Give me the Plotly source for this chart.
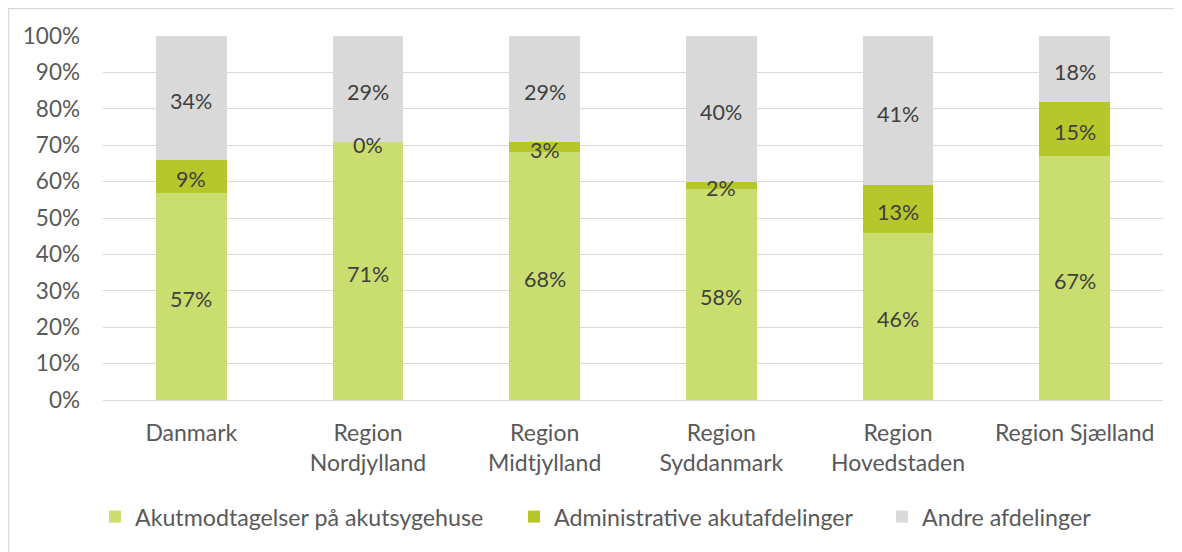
import plotly.graph_objects as go

categories = ["Danmark", "Region<br>Nordjylland", "Region<br>Midtjylland",
              "Region<br>Syddanmark", "Region<br>Hovedstaden", "Region Sjælland"]
akutmodtagelser = [57, 71, 68, 58, 46, 67]
administrative = [9, 0, 3, 2, 13, 15]
andre = [34, 29, 29, 40, 41, 18]
y_ticks = list(range(0, 101, 10))

series = [
    ("Akutmodtagelser på akutsygehuse", akutmodtagelser, "#CADD6F", "legend"),
    ("Administrative akutafdelinger", administrative, "#B5C72B", "legend2"),
    ("Andre afdelinger", andre, "#D9D9D9", "legend3"),
]

FONT = "Lato"
TICK_SIZE = 22.5
CAT_SIZE = 23
LEG_SIZE = 23.2
DATA_SIZE = 21.5
fig = go.Figure()
for name, vals, color, leg in series:
    fig.add_trace(go.Bar(
        x=categories, y=vals, name=name, marker_color=color,
        marker_line_width=0, legend=leg, showlegend=True,
    ))

# data labels drawn on top of all bars, centred in each stacked segment
annotations = []
base = [0] * len(categories)
for name, vals, color, leg in series:
    for cat, b, v in zip(categories, base, vals):
        annotations.append(dict(
            x=cat, y=b + v / 2, xref="x", yref="y", text=f"{v}%",
            showarrow=False, yshift=-3,
            font=dict(family=FONT, size=DATA_SIZE, color="#404040")))
    base = [b + v for b, v in zip(base, vals)]

# page is offset 8px by the browser body margin
OFF = 8
W, H = 1182 - OFF, 552 - OFF
PL, PR, PT, PB = 103, 1163, 36, 400   # plot area in screen pixels
L, R, T, B = PL - OFF, W - (PR - OFF), PT - OFF, H - (PB - OFF)
pw, ph = PR - PL, PB - PT

def px(xs):
    return (xs - PL) / pw

def py(ys):
    return (PB - ys) / ph

leg_common = dict(orientation="h", yanchor="middle", xanchor="left",
                  y=py(517), font=dict(family=FONT, size=LEG_SIZE, color="#595959"),
                  bgcolor="rgba(0,0,0,0)", itemclick=False)

fig.update_layout(
    width=W, height=H, barmode="stack", bargap=0.6,
    margin=dict(l=L, r=R, t=T, b=B),
    paper_bgcolor="white", plot_bgcolor="white",
    showlegend=True,
    font=dict(family=FONT, size=TICK_SIZE, color="#595959"),
    xaxis=dict(showgrid=False, showline=True, linecolor="#D9D9D9", linewidth=1,
               ticks="", ticklabelstandoff=12,
               tickfont=dict(family=FONT, size=CAT_SIZE, color="#595959")),
    yaxis=dict(range=[0, 100], tickvals=y_ticks, ticktext=[f"{t}%" for t in y_ticks],
               showgrid=True, gridcolor="#D9D9D9", gridwidth=1, zeroline=False,
               ticks="", ticklabelstandoff=22,
               tickfont=dict(family=FONT, size=TICK_SIZE, color="#595959")),
    legend=dict(x=px(95), **leg_common),
    legend2=dict(x=px(514), **leg_common),
    legend3=dict(x=px(882), **leg_common),
    annotations=annotations,
    shapes=[dict(type="rect", xref="paper", yref="paper",
                 x0=px(8.5), x1=px(1200), y0=py(600), y1=py(8.5),
                 line=dict(color="#D9D9D9", width=1.5), layer="below")],
)

fig.write_html("out.html")
